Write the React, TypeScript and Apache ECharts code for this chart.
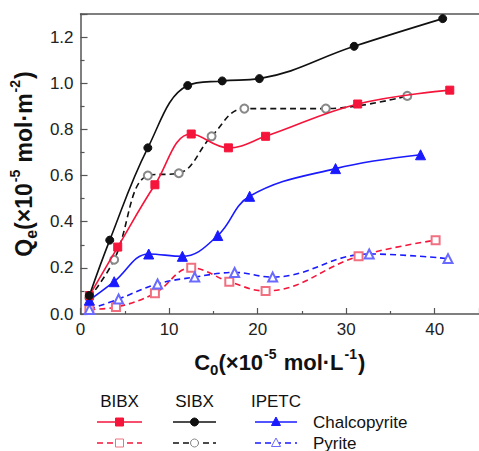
import React, { useEffect, useRef } from "react";
import * as echarts from "echarts";

// Chalcopyrite (solid lines, filled markers)
const bibxChalX = [1.0, 4.2, 8.4, 12.5, 16.7, 20.9, 31.3, 41.7];
const bibxChalY = [0.08, 0.29, 0.56, 0.78, 0.72, 0.77, 0.91, 0.97];
const sibxChalX = [1.0, 3.3, 7.6, 12.1, 16.0, 20.2, 30.9, 40.9];
const sibxChalY = [0.08, 0.32, 0.72, 0.99, 1.01, 1.02, 1.16, 1.28];
const ipetcChalX = [1.0, 3.8, 7.7, 11.5, 15.5, 19.1, 28.8, 38.4];
const ipetcChalY = [0.06, 0.14, 0.26, 0.25, 0.34, 0.51, 0.63, 0.69];
// Pyrite (dashed lines, open markers)
const bibxPyX = [1.0, 4.0, 8.4, 12.5, 16.8, 20.9, 31.4, 40.1];
const bibxPyY = [0.02, 0.03, 0.09, 0.2, 0.14, 0.1, 0.25, 0.32];
const sibxPyX = [1.0, 3.8, 7.6, 11.1, 14.8, 18.5, 27.7, 36.9];
const sibxPyY = [0.07, 0.235, 0.6, 0.61, 0.77, 0.89, 0.89, 0.945];
const ipetcPyX = [1.0, 4.3, 8.7, 12.9, 17.4, 21.7, 32.6, 41.5];
const ipetcPyY = [0.02, 0.065, 0.13, 0.16, 0.18, 0.16, 0.26, 0.24];

const collectors = ["BIBX", "SIBX", "IPETC"];
const minerals = ["Chalcopyrite", "Pyrite"];

const RED = "#f5143a";
const BLACK = "#111111";
const BLUE = "#1a1aff";
const FONT = "'Liberation Sans', Arial, sans-serif";

const zip = (xs: number[], ys: number[]) => xs.map((x, i) => [x, ys[i]]);

const nameRich = (size: number) => ({
  m: { fontSize: size, fontWeight: "bold", fontFamily: FONT, color: "#111", lineHeight: size + 8, verticalAlign: "middle" },
  sup: { fontSize: Math.round(size * 0.62), fontWeight: "bold", fontFamily: FONT, color: "#111", verticalAlign: "top", lineHeight: size + 8, padding: [0, 1, 0, 1] },
  sub: { fontSize: Math.round(size * 0.68), fontWeight: "bold", fontFamily: FONT, color: "#111", verticalAlign: "bottom", lineHeight: size + 8 },
});

export default function App() {
  const ref = useRef<HTMLDivElement>(null);
  useEffect(() => {
    if (!ref.current) return;
    const chart = echarts.init(ref.current, null, { renderer: "svg" });

    const solid = (name: string, data: number[][], color: string, symbol: string, size: number) => ({
      name,
      type: "line",
      data,
      smooth: 0.4,
      symbol,
      symbolSize: size,
      lineStyle: { color, width: 1.6, type: "solid" },
      itemStyle: { color, borderColor: color },
      z: 5,
    });
    const dashed = (name: string, data: number[][], color: string, mColor: string, symbol: string, size: number) => ({
      name,
      type: "line",
      data,
      smooth: 0.4,
      symbol,
      symbolSize: size,
      lineStyle: { color, width: 1.6, type: [6, 4] },
      itemStyle: { color: mColor, borderColor: mColor, borderWidth: 1 },
      z: 4,
    });

    const rowY = [422, 443];
    const colLine = [
      [97, 142],
      [173, 216],
      [255, 297],
    ];
    const colColor = [RED, BLACK, BLUE];
    const legendGraphics: any[] = [];
    collectors.forEach((c, i) => {
      const cx = (colLine[i][0] + colLine[i][1]) / 2;
      legendGraphics.push({
        type: "text",
        x: cx,
        y: 401,
        style: { text: c, fill: "#111", font: `17px ${FONT}`, textAlign: "center", textVerticalAlign: "middle" },
      });
      rowY.forEach((ry, r) => {
        legendGraphics.push({
          type: "line",
          shape: { x1: colLine[i][0], y1: ry, x2: colLine[i][1], y2: ry },
          style: {
            stroke: colColor[i],
            lineWidth: 1.6,
            lineDash: r === 1 ? [6, 4] : null,
          },
        });
        const filled = r === 0;
        const fill = filled ? colColor[i] : "#fff";
        const stroke = filled ? colColor[i] : i === 0 ? "#f07080" : i === 1 ? "#888" : "#6a6aff";
        if (i === 0) {
          legendGraphics.push({ type: "rect", shape: { x: cx - 4, y: ry - 4, width: 8, height: 8 }, style: { fill, stroke, lineWidth: 1 } });
        } else if (i === 1) {
          legendGraphics.push({ type: "circle", shape: { cx, cy: ry, r: 4 }, style: { fill, stroke, lineWidth: 1 } });
        } else {
          legendGraphics.push({
            type: "polygon",
            shape: { points: [[cx, ry - 5], [cx - 4.5, ry + 3.5], [cx + 4.5, ry + 3.5]] },
            style: { fill, stroke, lineWidth: 1 },
          });
        }
      });
    });
    minerals.forEach((m, r) => {
      legendGraphics.push({
        type: "text",
        x: 313,
        y: rowY[r],
        style: { text: m, fill: "#111", font: `17px ${FONT}`, textAlign: "left", textVerticalAlign: "middle" },
      });
    });

    const axisLine = { show: true, lineStyle: { color: "#555", width: 1.5 } };

    chart.setOption({
      animation: false,
      backgroundColor: "#fff",
      grid: { left: 77, top: 14, right: -9, bottom: 137, containLabel: false },
      xAxis: [
        {
          type: "value",
          min: 0,
          max: 45,
          interval: 10,
          position: "bottom",
          axisLine,
          axisTick: { show: true, inside: true, length: 6, lineStyle: { color: "#555", width: 1.2 } },
          minorTick: { show: true, splitNumber: 2, length: 3, lineStyle: { color: "#555", width: 1.2 } },
          splitLine: { show: false },
          axisLabel: { color: "#222", fontSize: 17, fontFamily: FONT, margin: 7, showMaxLabel: false },
          name: "{m|C}{sub|0}{m|(\u00d710}{sup|-5}{m| mol\u00b7L}{sup|-1}{m|)}",
          nameLocation: "middle",
          nameGap: 33,
          nameTextStyle: { color: "#111", fontSize: 22, fontWeight: "bold", fontFamily: FONT, rich: nameRich(22) },
        },
        {
          type: "value",
          min: 0,
          max: 45,
          position: "top",
          axisLine,
          axisTick: { show: false },
          axisLabel: { show: false },
          splitLine: { show: false },
        },
      ],
      yAxis: {
        type: "value",
        min: 0,
        max: 1.3,
        interval: 0.2,
        axisLine,
        axisTick: { show: true, inside: true, length: 7, lineStyle: { color: "#555", width: 1.2 } },
        minorTick: { show: true, splitNumber: 2, length: 4, lineStyle: { color: "#555", width: 1.2 } },
        splitLine: { show: false },
        axisLabel: {
          color: "#222",
          fontSize: 17,
          fontFamily: FONT,
          margin: 7,
          showMaxLabel: false,
          formatter: (v: number) => v.toFixed(1),
        },
        name: "{m|Q}{sub|e}{m|(\u00d710}{sup|-5}{m| mol\u00b7m}{sup|-2}{m|)}",
        nameLocation: "middle",
        nameGap: 36,
        nameTextStyle: { color: "#111", fontSize: 23, fontWeight: "bold", fontFamily: FONT, rich: nameRich(23) },
      },
      series: [
        dashed("BIBX Pyrite", zip(bibxPyX, bibxPyY), RED, "#f07080", "emptyRect", 8),
        dashed("SIBX Pyrite", zip(sibxPyX, sibxPyY), BLACK, "#888", "emptyCircle", 8),
        dashed("IPETC Pyrite", zip(ipetcPyX, ipetcPyY), BLUE, "#6a6aff", "emptyTriangle", 9),
        solid("IPETC Chalcopyrite", zip(ipetcChalX, ipetcChalY), BLUE, "triangle", 10),
        solid("BIBX Chalcopyrite", zip(bibxChalX, bibxChalY), RED, "rect", 8),
        solid("SIBX Chalcopyrite", zip(sibxChalX, sibxChalY), BLACK, "circle", 8),
      ],
      graphic: legendGraphics,
    });
    return () => chart.dispose();
  }, []);
  return (
    <div
      ref={ref}
      style={{ position: "fixed", left: 0, top: 0, width: 479, height: 451, background: "#fff" }}
    />
  );
}
